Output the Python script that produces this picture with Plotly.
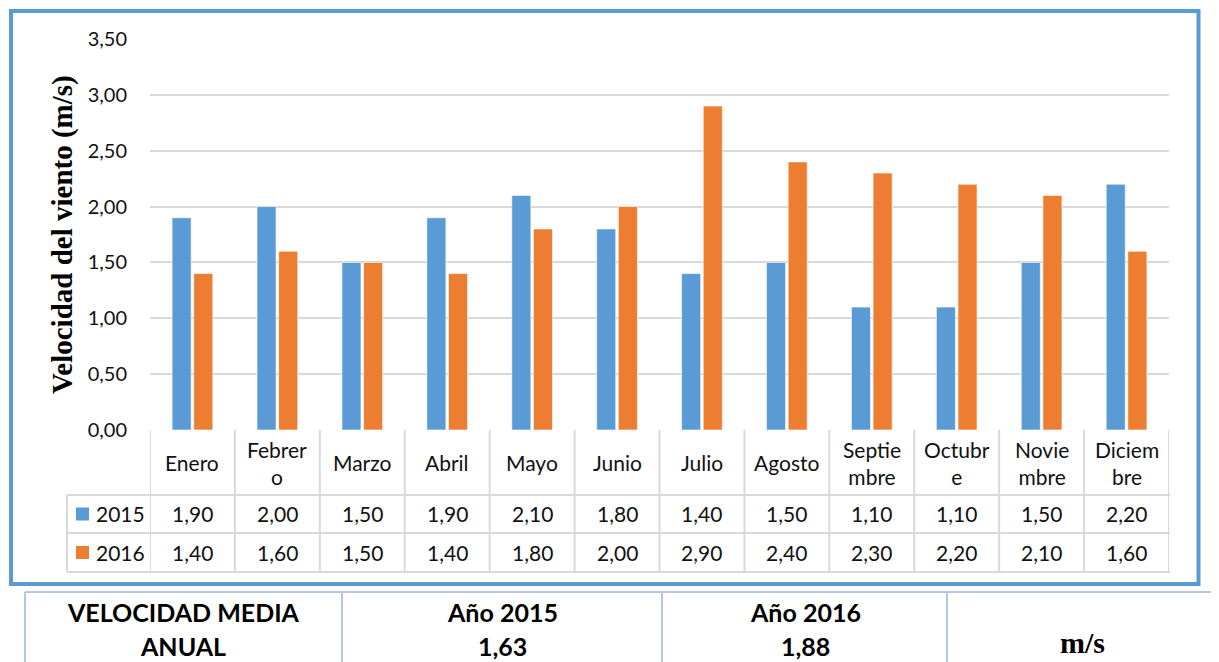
import plotly.graph_objects as go

months = ["Enero", "Febrero", "Marzo", "Abril", "Mayo", "Junio", "Julio",
          "Agosto", "Septiembre", "Octubre", "Noviembre", "Diciembre"]
month_labels = ["Enero", "Febrer<br>o", "Marzo", "Abril", "Mayo", "Junio", "Julio",
                "Agosto", "Septie<br>mbre", "Octubr<br>e", "Novie<br>mbre", "Diciem<br>bre"]
v2015 = [1.90, 2.00, 1.50, 1.90, 2.10, 1.80, 1.40, 1.50, 1.10, 1.10, 1.50, 2.20]
v2016 = [1.40, 1.60, 1.50, 1.40, 1.80, 2.00, 2.90, 2.40, 2.30, 2.20, 2.10, 1.60]
series_names = ["2015", "2016"]
yticks = [0, 0.5, 1.0, 1.5, 2.0, 2.5, 3.0, 3.5]
mean_2015 = 1.63
mean_2016 = 1.88

# page body has an 8px default margin; figure sized so it reaches the window edges
OFF = 8
W, H = 1219 - OFF, 662 - OFF
C15, C16 = "#5B9BD5", "#ED7D31"
GRID = "#D9D9D9"
FONT = "Lato"


def px(x):
    return (x - OFF) / W


def py(y):
    return 1 - (y - OFF) / H


def fmt(v):
    return f"{v:.2f}".replace(".", ",")


fig = go.Figure()
fig.add_bar(x=months, y=v2015, name=series_names[0], marker_color=C15,
            marker_line=dict(width=1, color="rgba(255,255,255,0.6)"))
fig.add_bar(x=months, y=v2016, name=series_names[1], marker_color=C16,
            marker_line=dict(width=1, color="rgba(255,255,255,0.6)"))

shapes = []
annotations = []

# outer blue frame
shapes.append(dict(type="rect", xref="paper", yref="paper", x0=px(11), x1=px(1198.5),
                   y0=py(584), y1=py(11), line=dict(color=C15, width=4), layer="below"))

# data table grid
hdr_top, hdr_bot, r1_bot, r2_bot = 430, 495, 533, 572
tl = dict(color=GRID, width=2)
n = len(months)
for i in range(n + 1):
    shapes.append(dict(type="line", xref="x", yref="paper", x0=i - 0.5, x1=i - 0.5,
                       y0=py(r2_bot), y1=py(hdr_top), line=tl))
shapes.append(dict(type="line", xref="paper", yref="paper", x0=px(67), x1=px(67),
                   y0=py(r2_bot), y1=py(hdr_bot), line=tl))
for yy in (hdr_bot, r1_bot, r2_bot):
    shapes.append(dict(type="line", xref="paper", yref="paper", x0=px(67), x1=px(1170),
                       y0=py(yy), y1=py(yy), line=tl))

txt_font = dict(family=FONT, size=21, color="#111111")
for i, lab in enumerate(month_labels):
    annotations.append(dict(x=i, xref="x", y=py((hdr_top + hdr_bot) / 2), yref="paper",
                            text=lab, showarrow=False, font=txt_font, align="center",
                            xanchor="center", yanchor="middle"))
    annotations.append(dict(x=i, xref="x", y=py((hdr_bot + r1_bot) / 2), yref="paper",
                            text=fmt(v2015[i]), showarrow=False, font=txt_font,
                            xanchor="center", yanchor="middle"))
    annotations.append(dict(x=i, xref="x", y=py((r1_bot + r2_bot) / 2), yref="paper",
                            text=fmt(v2016[i]), showarrow=False, font=txt_font,
                            xanchor="center", yanchor="middle"))

# legend keys in table
for name, col, (ya, yb) in ((series_names[0], C15, (hdr_bot, r1_bot)),
                            (series_names[1], C16, (r1_bot, r2_bot))):
    yc = (ya + yb) / 2
    shapes.append(dict(type="rect", xref="paper", yref="paper", x0=px(76), x1=px(89),
                       y0=py(yc + 6.5), y1=py(yc - 6.5), fillcolor=col, line_width=0))
    annotations.append(dict(x=px(94), xref="paper", y=py(yc), yref="paper", text=name,
                            showarrow=False, font=txt_font, xanchor="left", yanchor="middle"))

# y-axis title
annotations.append(dict(x=px(63), xref="paper", y=py(235), yref="paper",
                        text="<b>Velocidad del viento (m/s)</b>", textangle=-90, showarrow=False,
                        font=dict(family="Liberation Serif", size=29, color="#000000"),
                        xanchor="center", yanchor="middle"))

# bottom summary table
BL = dict(color="#B4C6E7", width=2)
shapes.append(dict(type="line", xref="paper", yref="paper", x0=px(25), x1=px(1218),
                   y0=py(592), y1=py(592), line=BL))
for xx in (25, 342, 662, 947, 1217):
    shapes.append(dict(type="line", xref="paper", yref="paper", x0=px(xx), x1=px(xx),
                       y0=py(662), y1=py(592), line=BL))
bfont = dict(family=FONT, size=25, color="#000000")
cells = [(183, "VELOCIDAD MEDIA", "ANUAL"),
         (502, "Año " + series_names[0], fmt(mean_2015)),
         (805, "Año " + series_names[1], fmt(mean_2016))]
for xc, l1, l2 in cells:
    annotations.append(dict(x=px(xc), xref="paper", y=py(612), yref="paper", text=f"<b>{l1}</b>",
                            showarrow=False, font=bfont, xanchor="center", yanchor="middle"))
    annotations.append(dict(x=px(xc), xref="paper", y=py(646), yref="paper", text=f"<b>{l2}</b>",
                            showarrow=False, font=bfont, xanchor="center", yanchor="middle"))
annotations.append(dict(x=px(1082), xref="paper", y=py(661), yref="paper", text="<b>m/s</b>",
                        showarrow=False, font=dict(family="Liberation Serif", size=30, color="#000000"),
                        xanchor="center", yanchor="bottom"))

fig.update_layout(
    width=W, height=H, margin=dict(l=0, r=0, t=0, b=0, autoexpand=False),
    paper_bgcolor="white", plot_bgcolor="white",
    barmode="group", bargap=0.49, bargroupgap=0.12,
    showlegend=False,
    xaxis=dict(domain=[px(150), px(1169)], type="category", range=[-0.5, n - 0.5],
               showticklabels=False, showgrid=False, zeroline=False, showline=False,
               automargin=False),
    yaxis=dict(domain=[py(430), py(39)], range=[0, 3.5], tickvals=yticks,
               ticktext=[fmt(v) for v in yticks], showgrid=True, gridcolor=GRID, gridwidth=2,
               zeroline=False, showline=False, ticks="", ticklabelstandoff=22,
               automargin=False,
               tickfont=dict(family=FONT, size=20, color="#111111")),
    shapes=shapes, annotations=annotations,
)

fig.write_html("out.html")
